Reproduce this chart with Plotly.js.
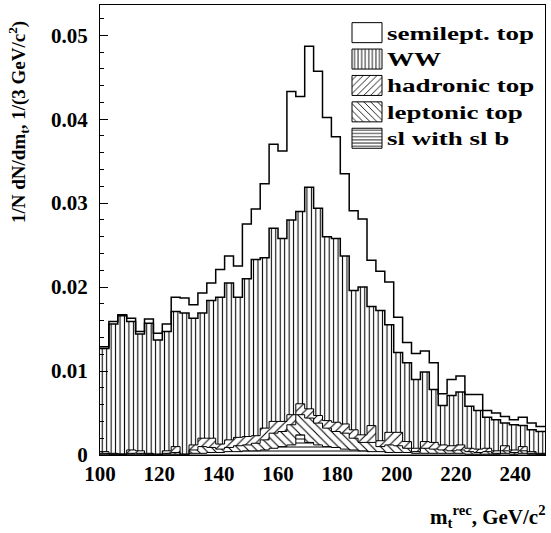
<!DOCTYPE html>
<html><head><meta charset="utf-8">
<script src="https://cdn.plot.ly/plotly-3.0.1.min.js"></script>
<style>html,body{margin:0;padding:0;background:#fff}</style>
</head><body>
<div id="chart" style="width:551px;height:533px"></div>
<script>
// histogram binning (GeV/c^2)
const binLow = 100, binWidth = 3;

// series values per 3 GeV bin (stacked from the bottom up)
const slWithSlB = [0.0001,0.0001,0.0001,0.0001,0.0001,0.0001,0.0000,0.0001,0.0001,0.0000,
  0.0002,0.0002,0.0003,0.0003,0.0004,0.0004,0.0005,0.0005,0.0006,0.0008,
  0.0010,0.0012,0.0024,0.0015,0.0012,0.0010,0.0009,0.0007,0.0006,0.0005,
  0.0004,0.0004,0.0003,0.0003,0.0003,0.0002,0.0002,0.0002,0.0002,0.0002,
  0.0002,0.0001,0.0001,0.0001,0.0001,0.0002,0.0001,0.0002,0.0001,0.0001];
const leptonicTop = [0.0001,0.0000,0.0000,0.0001,0.0001,0.0000,0.0001,0.0001,0.0002,0.0001,
  0.0004,0.0008,0.0006,0.0004,0.0005,0.0007,0.0007,0.0009,0.0012,0.0018,
  0.0018,0.0024,0.0024,0.0029,0.0026,0.0022,0.0019,0.0019,0.0014,0.0010,
  0.0011,0.0006,0.0009,0.0008,0.0005,0.0002,0.0006,0.0005,0.0004,0.0003,
  0.0004,0.0003,0.0002,0.0003,0.0001,0.0003,0.0002,0.0003,0.0001,0.0000];
const hadronicTop = [0.0002,0.0001,0.0000,0.0004,0.0003,0.0001,0.0000,0.0003,0.0007,0.0000,
  0.0006,0.0010,0.0011,0.0006,0.0009,0.0010,0.0010,0.0009,0.0014,0.0014,
  0.0012,0.0012,0.0013,0.0011,0.0009,0.0009,0.0011,0.0011,0.0010,0.0009,
  0.0020,0.0007,0.0015,0.0016,0.0008,0.0004,0.0008,0.0008,0.0006,0.0006,
  0.0006,0.0004,0.0004,0.0004,0.0003,0.0006,0.0003,0.0005,0.0002,0.0001];
const wwValues = [0.0123,0.0154,0.0165,0.0153,0.0139,0.0155,0.0136,0.0142,0.0161,0.0168,
  0.0151,0.0149,0.0164,0.0175,0.0187,0.0167,0.0188,0.0210,0.0203,0.0230,
  0.0218,0.0232,0.0229,0.0264,0.0247,0.0219,0.0219,0.0200,0.0166,0.0176,
  0.0142,0.0155,0.0128,0.0095,0.0094,0.0082,0.0083,0.0063,0.0047,0.0060,
  0.0063,0.0050,0.0046,0.0037,0.0037,0.0027,0.0030,0.0025,0.0026,0.0026];
const semileptTop = [0.0002,0.0003,0.0001,0.0004,0.0003,0.0005,0.0008,0.0009,0.0017,0.0018,
  0.0016,0.0024,0.0021,0.0033,0.0032,0.0037,0.0065,0.0060,0.0088,0.0100,
  0.0104,0.0153,0.0137,0.0168,0.0163,0.0142,0.0121,0.0098,0.0095,0.0081,
  0.0055,0.0047,0.0051,0.0042,0.0024,0.0031,0.0025,0.0032,0.0014,0.0019,
  0.0019,0.0014,0.0019,0.0008,0.0008,0.0008,0.0006,0.0010,0.0008,0.0006];

const seriesNames = ['sl with sl b','leptonic top','hadronic top','WW','semilept. top'];
const yTickVals = [0,0.01,0.02,0.03,0.04,0.05];
const yTickText = ['0','0.01','0.02','0.03','0.04','0.05'];
const xTickVals = [100,120,140,160,180,200,220,240];

const series = [slWithSlB, leptonicTop, hadronicTop, wwValues, semileptTop];
const patterns = [
  {shape:'-', size:4, solidity:0.25},
  {shape:'\\', size:6, solidity:0.18},
  {shape:'/', size:6, solidity:0.18},
  {shape:'|', size:4.45, solidity:0.24},
  {shape:'', size:6, solidity:0.2}
];

const centers = slWithSlB.map((_, i) => binLow + binWidth * (i + 0.5));
const edges = slWithSlB.map((_, i) => binLow + binWidth * i).concat([binLow + binWidth * slWithSlB.length]);

const traces = [];
series.forEach((vals, k) => {
  const p = patterns[k];
  traces.push({
    type:'bar', x:centers, y:vals, width:binWidth, name:seriesNames[k],
    marker:{color:'white', line:{width:0},
      pattern:{shape:p.shape, size:p.size, solidity:p.solidity, fgcolor:'black', bgcolor:'white', fillmode:'replace'}},
    hoverinfo:'skip'
  });
});
// cumulative step outlines
let cum = slWithSlB.map(() => 0);
series.forEach((vals, k) => {
  cum = cum.map((c, i) => c + vals[i]);
  traces.push({
    type:'scatter', mode:'lines', x:edges, y:cum.concat([cum[cum.length-1]]),
    line:{shape:'hv', color:'black', width:(k >= 3 ? 1.5 : 1)},
    showlegend:false, hoverinfo:'skip'
  });
});

const serif = 'Liberation Serif, Times New Roman, serif';
const legendStretch = 1.5;
const layout = {
  width:551, height:533,
  margin:{l:100, r:6, t:5, b:78, pad:0},
  paper_bgcolor:'white', plot_bgcolor:'white',
  barmode:'stack', bargap:0,
  font:{family:serif, size:20, color:'black', weight:'bold'},
  xaxis:{range:[100,250], tickvals:xTickVals, ticks:'', showline:true, mirror:true,
    linecolor:'black', linewidth:1, showgrid:false, zeroline:false,
    tickfont:{family:serif, size:21, weight:'bold'}},
  yaxis:{range:[0,0.0536], tickvals:yTickVals, ticktext:yTickText, ticks:'inside', ticklen:8,
    tickcolor:'black', tickwidth:1, ticklabelstandoff:7,
    minor:{ticks:'inside', ticklen:4, dtick:0.002, tick0:0, tickcolor:'black', showgrid:false},
    showline:true, mirror:true, linecolor:'black', linewidth:1, showgrid:false, zeroline:false,
    tickfont:{family:serif, size:21, weight:'bold'}},
  showlegend:true,
  legend:{x:(347-100)/445, xanchor:'left', y:0.979, yanchor:'top', bgcolor:'rgba(0,0,0,0)',
    traceorder:'reversed', itemwidth:30, font:{family:serif, size:18, weight:'bold'}},
  annotations:[
    {text:'1/N dN/dm<sub>t</sub>, 1/(3 GeV/c<sup>2</sup>)', textangle:-90, xref:'paper', yref:'paper',
     x:(18-100)/445, y:(455-122)/450, xanchor:'center', yanchor:'middle', showarrow:false,
     font:{family:serif, size:19, weight:'bold'}},
    {text:'m<sub>t</sub><sup>rec</sup>, GeV/c<sup>2</sup>', xref:'paper', yref:'paper',
     x:(548-100)/445, y:(455-516)/450, xanchor:'right', yanchor:'middle', showarrow:false,
     font:{family:serif, size:21, weight:'bold'}}
  ]
};

Plotly.newPlot('chart', traces, layout, {staticPlot:true, displayModeBar:false}).then(gd => {
  gd.querySelectorAll('.legend [clip-path]').forEach(e => e.removeAttribute('clip-path'));
  gd.querySelectorAll('.legend .legendpoints path').forEach(p => {
    p.setAttribute('d', 'M15,10H-15V-10H15Z');
    p.style.stroke = '#000';
    p.style.strokeWidth = '1px';
  });
  gd.querySelectorAll('.legend text.legendtext').forEach(t => {
    const w = t.getComputedTextLength();
    t.setAttribute('textLength', (w * legendStretch).toFixed(1));
    t.setAttribute('lengthAdjust', 'spacingAndGlyphs');
  });
});
</script>
</body></html>
